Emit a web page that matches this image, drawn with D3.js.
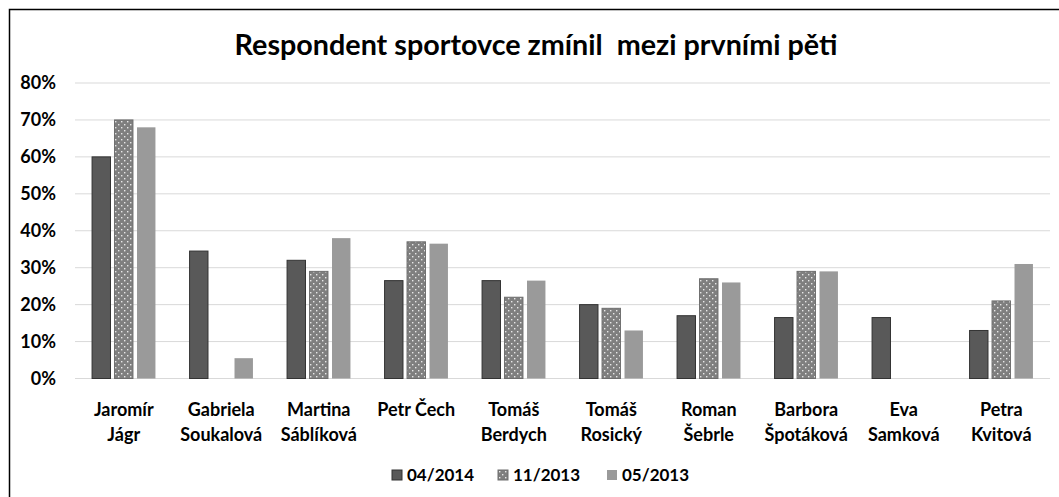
<!DOCTYPE html>
<html>
<head>
<meta charset="utf-8">
<script src="https://cdn.jsdelivr.net/npm/d3@7"></script>
<style>
  body { margin: 0; background: #fff; }
  text { font-family: Lato, "Open Sans", sans-serif; font-weight: bold; fill: #000; }
</style>
</head>
<body>
<svg id="chart" width="1059" height="497"></svg>
<script>
var categories = [["Jaromír", "Jágr"], ["Gabriela", "Soukalová"], ["Martina", "Sáblíková"],
  ["Petr Čech"], ["Tomáš", "Berdych"], ["Tomáš", "Rosický"], ["Roman", "Šebrle"],
  ["Barbora", "Špotáková"], ["Eva", "Samková"], ["Petra", "Kvitová"]];
var seriesNames = ["04/2014", "11/2013", "05/2013"];
var s2014_04 = [60, 34.5, 32, 26.5, 26.5, 20, 17, 16.5, 16.5, 13];
var s2013_11 = [70, null, 29, 37, 22, 19, 27, 29, null, 21];
var s2013_05 = [68, 5.5, 38, 36.5, 26.5, 13, 26, 29, null, 31];
var yTicks = [0, 10, 20, 30, 40, 50, 60, 70, 80];

var series = [s2014_04, s2013_11, s2013_05];
var fills = ["#595959", "url(#dots)", "#9a9a9a"];
var strokes = ["#333", "#6e6e6e", "none"];

var svg = d3.select('#chart');

// dotted pattern for the middle series
var pat = svg.append('defs').append('pattern')
  .attr('id', 'dots').attr('patternUnits', 'userSpaceOnUse')
  .attr('width', 6).attr('height', 6);
pat.append('rect').attr('width', 6).attr('height', 6).attr('fill', '#7f7f7f');
pat.append('rect').attr('x', 1).attr('y', 1).attr('width', 1.4).attr('height', 1.4).attr('fill', '#e8e8e8');
pat.append('rect').attr('x', 4).attr('y', 4).attr('width', 1.4).attr('height', 1.4).attr('fill', '#e8e8e8');

// frame
svg.append('path').attr('d', 'M9.5,497 V9.5 H1059')
  .attr('fill', 'none').attr('stroke', '#000').attr('stroke-width', 1.5);

var x0 = d3.scaleBand().domain(d3.range(categories.length)).range([75, 1050]).paddingInner(0.35).paddingOuter(0.175);
var x1 = d3.scaleBand().domain(d3.range(series.length)).range([0, x0.bandwidth()]).paddingInner(0.18);
var y = d3.scaleLinear().domain([0, 80]).range([378.5, 83]);

// grid
svg.append('g').selectAll('line').data(yTicks).enter().append('line')
  .attr('x1', 75).attr('x2', 1050)
  .attr('y1', function (d) { return y(d); }).attr('y2', function (d) { return y(d); })
  .attr('stroke', '#d9d9d9').attr('stroke-width', 1);

// y axis labels
var yAxis = d3.axisLeft(y).tickValues(yTicks).tickFormat(function (d) { return d + '%'; }).tickSize(0).tickPadding(0);
var ya = svg.append('g').attr('transform', 'translate(56,0)').call(yAxis);
ya.select('.domain').remove();
ya.selectAll('text').attr('font-size', 18).attr('font-family', 'Lato, sans-serif').attr('font-weight', 'bold').attr('fill', '#000');

// bars
series.forEach(function (vals, si) {
  var pts = vals.map(function (v, i) { return { i: i, v: v }; })
    .filter(function (d) { return d.v !== null; });
  svg.append('g').selectAll('rect').data(pts).enter().append('rect')
    .attr('x', function (d) { return x0(d.i) + x1(si); })
    .attr('y', function (d) { return y(d.v); })
    .attr('width', x1.bandwidth())
    .attr('height', function (d) { return y(0) - y(d.v); })
    .attr('fill', fills[si]).attr('stroke', strokes[si]).attr('stroke-width', 1);
});

// category labels
var cat = svg.append('g').selectAll('text').data(categories).enter().append('text')
  .attr('x', function (d, i) { return x0(i) + x0.bandwidth() / 2; })
  .attr('y', 416).attr('text-anchor', 'middle').attr('font-size', 18);
cat.selectAll('tspan').data(function (d) { return d; }).enter().append('tspan')
  .attr('x', function () { return d3.select(this.parentNode).attr('x'); })
  .attr('dy', function (d, i) { return i === 0 ? 0 : 25; })
  .text(function (d) { return d; });

// title
var title = svg.append('text').attr('x', 536).attr('y', 55).attr('text-anchor', 'middle')
  .attr('font-size', 26)
  .style('white-space', 'pre').text('Respondent sportovce zmínil  mezi prvními pěti');
var tw = title.node().getComputedTextLength();
title.attr('font-size', 26 * 603 / tw);

// legend
var legendX = [392, 498, 607];
var lg = svg.append('g').selectAll('g').data(seriesNames).enter().append('g')
  .attr('transform', function (d, i) { return 'translate(' + legendX[i] + ',470)'; });
lg.append('rect').attr('width', 10).attr('height', 10)
  .attr('fill', function (d, i) { return fills[i]; })
  .attr('stroke', function (d, i) { return strokes[i]; });
lg.append('text').attr('x', 15).attr('y', 11).attr('font-size', 17).text(function (d) { return d; });
</script>
</body>
</html>
